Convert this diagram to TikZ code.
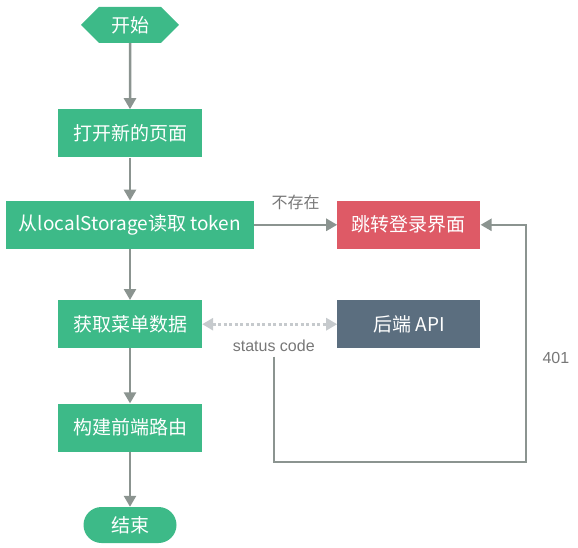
\documentclass[tikz,border=0pt]{standalone}
\usepackage{fontspec}
\setmainfont{Noto Sans CJK SC}
\newfontfamily\latfont{Liberation Sans}
\usepackage{tikz}
\usetikzlibrary{shapes.symbols, arrows.meta, positioning}
\definecolor{flowgreen}{HTML}{3DBA88}
\definecolor{flowred}{HTML}{DE5A66}
\definecolor{flowslate}{HTML}{5B6E7F}
\definecolor{linegray}{HTML}{8B9490}
\definecolor{dotgray}{HTML}{C6CACD}
\definecolor{labelgray}{HTML}{777777}
\tikzset{
  block/.style={rectangle, fill=flowgreen, text=white, minimum width=144pt,
                minimum height=48pt, inner sep=0pt, text centered,
                font=\fontsize{19}{22}\selectfont},
  startnode/.style={signal, signal to=west and east, fill=flowgreen, text=white,
                minimum width=98pt, minimum height=36pt, inner sep=0pt,
                font=\fontsize{19}{22}\selectfont},
  endnode/.style={rectangle, rounded corners=18pt, fill=flowgreen, text=white,
                minimum width=93pt, minimum height=36pt, inner sep=0pt,
                font=\fontsize{19}{22}\selectfont},
  arrow/.style={-{Triangle[length=11pt,width=12pt]}, line width=2.5pt, draw=linegray},
  dotarrow/.style={{Triangle[length=11pt,width=12pt]}-{Triangle[length=11pt,width=12pt]},
                line width=3pt, draw=dotgray, dash pattern=on 3pt off 2.5pt},
  lbl/.style={text=labelgray, font=\fontsize{16}{18}\selectfont},
  latlbl/.style={lbl, font=\latfont\fontsize{16}{18}\selectfont}
}

\begin{document}
\begin{tikzpicture}
    \useasboundingbox (0,0) rectangle (578pt,-548pt);
    \node[startnode] (start) at (130pt,-25pt) {开始};
    \node[block, below=66pt of start] (open) {打开新的页面};
    \node[block, minimum width=248pt, below=43pt of open] (read) {从localStorage读取 token};
    \node[block, fill=flowred, minimum width=143pt, right=83pt of read] (jump) {跳转登录界面};
    \node[block, below=51pt of read] (fetch) {获取菜单数据};
    \node[block, fill=flowslate, minimum width=143pt, below=51pt of jump] (api) {后端 API};
    \node[block, below=55pt of fetch] (build) {构建前端路由};
    \node[endnode, below=55pt of build] (end) {结束};
    \coordinate (corner) at (526pt,-462pt);

    \draw[arrow] (start) -- (open);
    \draw[arrow] (open) -- (read);
    \draw[arrow] (read) -- node[lbl, above=10pt]{不存在} (jump);
    \draw[arrow] (read) -- (fetch);
    \draw[dotarrow] (fetch) -- node[latlbl, pos=0.53, below=11pt] (stat) {status code} (api);
    \draw[arrow] (stat.south) |- (corner) |- node[latlbl, pos=0.22, right=12pt]{401} (jump.east);
    \draw[arrow] (fetch) -- (build);
    \draw[arrow] (build) -- (end);
\end{tikzpicture}
\end{document}
